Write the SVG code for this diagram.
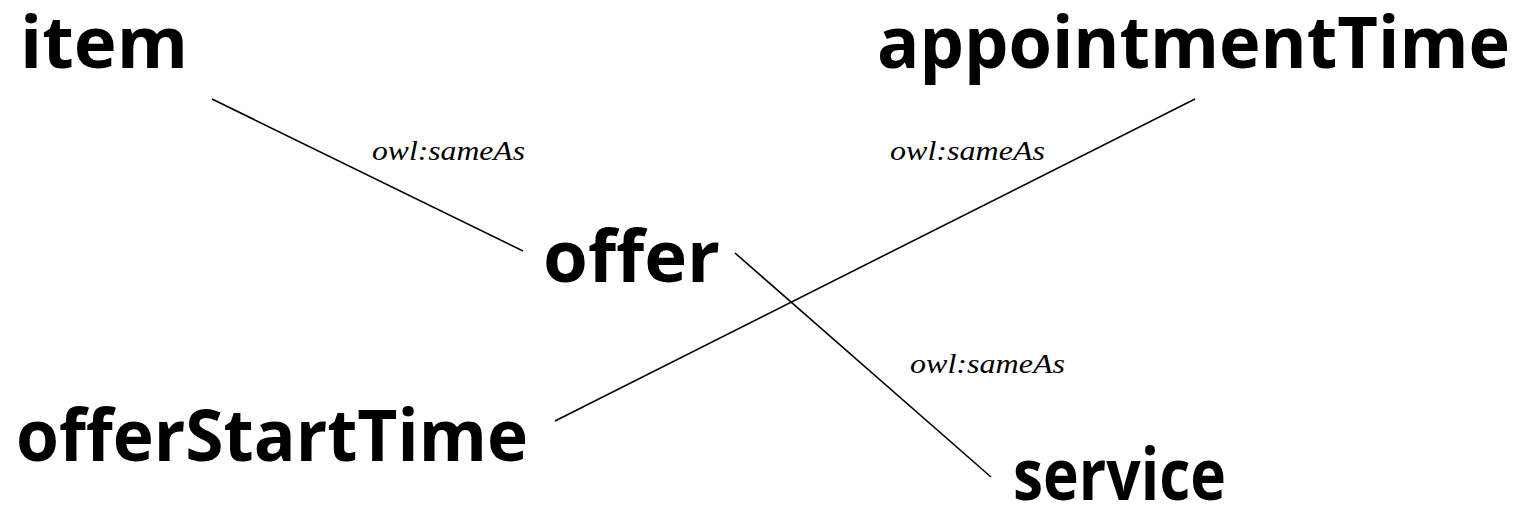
<svg xmlns="http://www.w3.org/2000/svg" width="1527" height="509" viewBox="0 0 1527 509">
  <style>
    .node { font-family: "Open Sans", "Liberation Sans", sans-serif; font-weight: bold; font-size: 72px; fill: #000; }
    .lbl { font-family: "Liberation Serif", serif; font-style: italic; font-size: 27px; fill: #000; }
    .edge { stroke: #000; stroke-width: 1.6; fill: none; }
  </style>
  <rect width="1527" height="509" fill="#fff"/>
  <g id="connectors">
    <line class="edge" x1="212" y1="99" x2="523" y2="251"/>
    <line class="edge" x1="1195" y1="99" x2="555" y2="421"/>
    <line class="edge" x1="735" y1="253" x2="991" y2="477"/>
    <text class="lbl" x="372" y="160" textLength="153" lengthAdjust="spacingAndGlyphs">owl:sameAs</text>
    <text class="lbl" x="890" y="160" textLength="155" lengthAdjust="spacingAndGlyphs">owl:sameAs</text>
    <text class="lbl" x="910" y="373" textLength="155" lengthAdjust="spacingAndGlyphs">owl:sameAs</text>
  </g>
  <g id="item"><text class="node" x="20" y="68" textLength="168" lengthAdjust="spacingAndGlyphs">item</text></g>
  <g id="appointmentTime"><text class="node" x="877" y="68" textLength="633" lengthAdjust="spacingAndGlyphs">appointmentTime</text></g>
  <g id="offer"><text class="node" x="543" y="282" textLength="177" lengthAdjust="spacingAndGlyphs">offer</text></g>
  <g id="offerStartTime"><text class="node" x="16" y="461" textLength="512" lengthAdjust="spacingAndGlyphs">offerStartTime</text></g>
  <g id="service"><text class="node" x="1013" y="500" textLength="213" lengthAdjust="spacingAndGlyphs">service</text></g>
</svg>
